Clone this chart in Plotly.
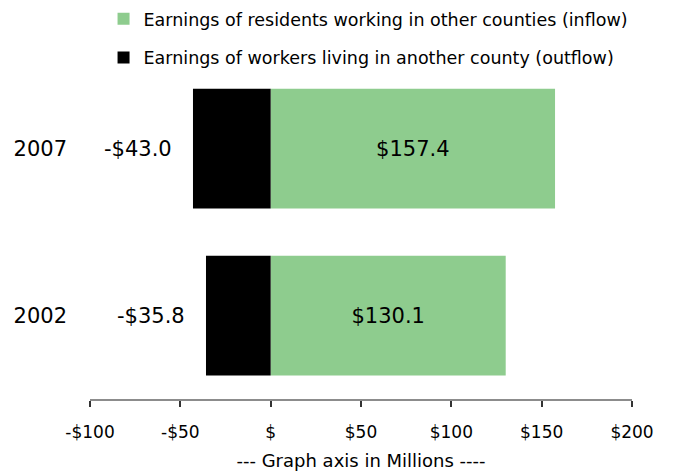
import plotly.graph_objects as go

years = ["2002", "2007"]
inflow = [130.1, 157.4]
outflow = [-35.8, -43.0]
tick_vals = [-100, -50, 0, 50, 100, 150, 200]
tick_text = ["-$100", "-$50", "$", "$50", "$100", "$150", "$200"]
inflow_name = "Earnings of residents working in other counties (inflow)"
outflow_name = "Earnings of workers living in another county (outflow)"

FONT = "DejaVu Sans"

fig = go.Figure()
fig.add_trace(go.Bar(
    y=years, x=inflow, orientation="h", name=inflow_name,
    marker=dict(color="#8ecc8e", line=dict(width=0)),
    text=[f"${v:.1f}" for v in inflow], textposition="inside",
    insidetextanchor="middle", textfont=dict(size=21, color="black", family=FONT),
    legendgroup="a", legendrank=1,
))
fig.add_trace(go.Bar(
    y=years, x=outflow, orientation="h", name=outflow_name,
    marker=dict(color="black", line=dict(width=0)),
    legendgroup="b", legendrank=2,
))

for i, v in enumerate(outflow):
    fig.add_annotation(x=v, y=i, text=f"-${abs(v):.1f}", showarrow=False,
                       xanchor="right", xshift=-19,
                       font=dict(size=21, color="black", family=FONT))

fig.update_layout(
    width=673, height=474,
    margin=dict(l=90, r=41, t=0, b=75),
    barmode="relative", bargap=0.283,
    plot_bgcolor="white", paper_bgcolor="white",
    font=dict(family=FONT, color="black"),
    showlegend=True,
    legend=dict(x=0.025, xanchor="left", y=0.9975, yanchor="top",
                font=dict(size=17.5, color="black", family=FONT),
                tracegroupgap=13, traceorder="grouped",
                bgcolor="rgba(0,0,0,0)"),
    xaxis=dict(range=[-100, 200], tickvals=tick_vals, ticktext=tick_text,
               automargin=False,
               showgrid=False, zeroline=False, showline=True,
               linecolor="#8c8c8c", linewidth=2, ticks="outside",
               tickcolor="#333333", ticklen=6, tickwidth=1.5,
               ticklabelstandoff=11,
               tickfont=dict(size=17, color="black", family=FONT),
               title=dict(text="--- Graph axis in Millions ----", standoff=13,
                          font=dict(size=18, color="black", family=FONT))),
    xaxis2=dict(range=[-100, 200], tickvals=tick_vals, overlaying="x",
                side="bottom", anchor="y", showgrid=False, zeroline=False,
                automargin=False,
                showline=False, showticklabels=False, ticks="inside",
                tickcolor="#333333", ticklen=6, tickwidth=1.5),
    yaxis=dict(type="category", range=[-0.5, 1.5], domain=[0, 0.837],
               showgrid=False, automargin=False,
               zeroline=False, showline=False, ticks="", ticklabelstandoff=22,
               tickfont=dict(size=21, color="black", family=FONT)),
)

fig.write_html("out.html", config={"displayModeBar": False},
               post_script="document.body.style.margin='0';")
